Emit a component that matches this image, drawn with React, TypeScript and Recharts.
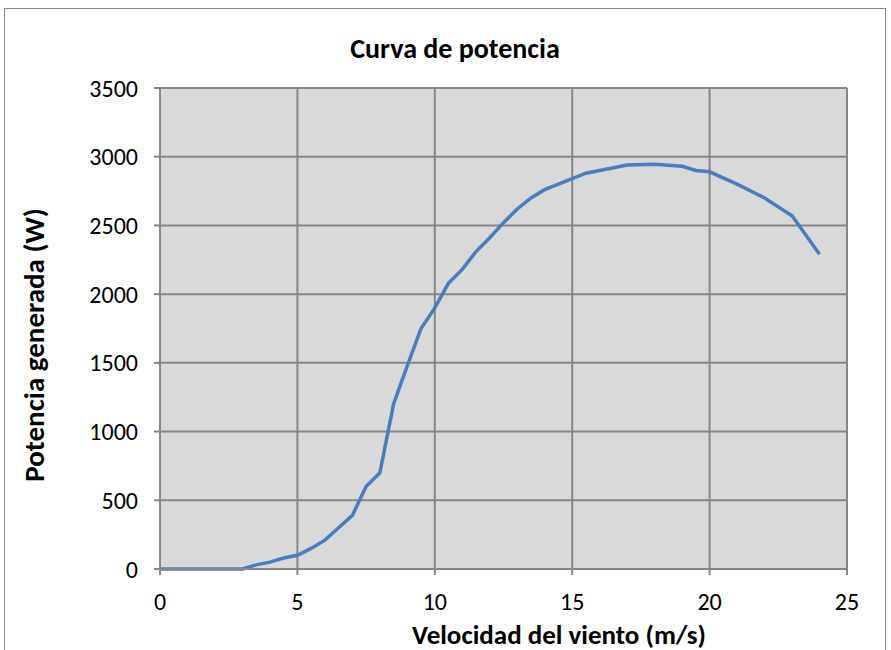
import { LineChart, Line, XAxis, YAxis, CartesianGrid } from 'recharts'

const windSpeed = [0, 0.5, 1, 1.5, 2, 2.5, 3, 3.5, 4, 4.5, 5, 5.5, 6, 6.5, 7, 7.5, 8, 8.5, 9, 9.5, 10, 10.5, 11, 11.5, 12, 12.5, 13, 13.5, 14, 14.5, 15, 15.5, 16, 16.5, 17, 18, 19, 19.5, 20, 21, 22, 23, 24]
const power = [0, 0, 0, 0, 0, 0, 0, 30, 50, 80, 100, 150, 210, 300, 390, 600, 700, 1200, 1480, 1750, 1900, 2080, 2180, 2310, 2410, 2520, 2620, 2700, 2760, 2800, 2840, 2880, 2900, 2920, 2940, 2945, 2930, 2900, 2890, 2800, 2700, 2570, 2290]

const xTicks = [0, 5, 10, 15, 20, 25]
const yTicks = [0, 500, 1000, 1500, 2000, 2500, 3000, 3500]

const data = windSpeed.map((v, i) => ({ v, p: power[i] }))

const font = 'Calibri, Carlito, "Open Sans", sans-serif'
const gray = '#868686'

export default function App() {
  return (
    <div style={{ position: 'absolute', left: 0, top: 0, width: 891, height: 650, overflow: 'hidden', background: '#fff', fontFamily: font }}>
      <div style={{ position: 'absolute', left: 4, top: 8, width: 880, height: 680, border: `1px solid ${gray}` }} />
      <div style={{ position: 'absolute', left: 0, width: 910, top: 32, textAlign: 'center', fontWeight: 'bold', fontSize: 28, lineHeight: '34px', color: '#000' }}>
        Curva de potencia
      </div>
      <LineChart
        width={891}
        height={650}
        data={data}
        margin={{ top: 88, right: 44, left: 100, bottom: 51 }}
        style={{ position: 'absolute', left: 0, top: 0 }}
      >
        <CartesianGrid stroke={gray} strokeWidth={2} fill="#d9d9d9" fillOpacity={1} />
        <XAxis
          dataKey="v"
          type="number"
          domain={[0, 25]}
          ticks={xTicks}
          height={30}
          tickSize={6}
          tickMargin={18}
          stroke={gray}
          strokeWidth={2}
          tick={{ fill: '#000', fontSize: 24, fontFamily: font }}
        />
        <YAxis
          type="number"
          domain={[0, 3500]}
          ticks={yTicks}
          width={60}
          tickSize={6}
          tickMargin={16}
          stroke={gray}
          strokeWidth={2}
          tick={{ fill: '#000', fontSize: 24, fontFamily: font }}
        />
        <Line
          dataKey="p"
          type="linear"
          stroke="#4a7ebb"
          strokeWidth={3.5}
          dot={false}
          isAnimationActive={false}
        />
      </LineChart>
      <div style={{ position: 'absolute', left: 559, top: 635, transform: 'translate(-50%, -50%)', fontWeight: 'bold', fontSize: 27, lineHeight: '34px', color: '#000', whiteSpace: 'nowrap' }}>
        Velocidad del viento (m/s)
      </div>
      <div style={{ position: 'absolute', left: 34, top: 345, transform: 'translate(-50%, -50%) rotate(-90deg)', fontWeight: 'bold', fontSize: 29, lineHeight: '34px', color: '#000', whiteSpace: 'nowrap' }}>
        Potencia generada (W)
      </div>
    </div>
  )
}
